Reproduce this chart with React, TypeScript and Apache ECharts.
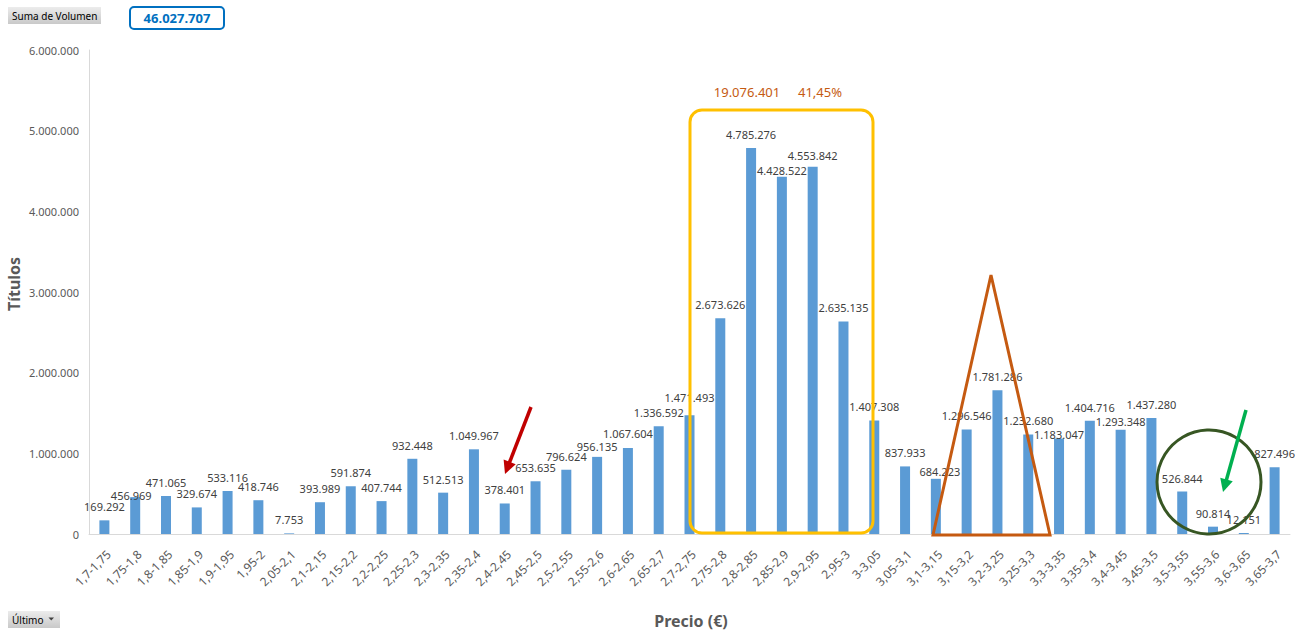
import React, { useEffect, useRef } from "react";
import * as echarts from "echarts";

// Price ranges (€) and traded volume per range
const categories = [
  "1,7-1,75", "1,75-1,8", "1,8-1,85", "1,85-1,9", "1,9-1,95", "1,95-2", "2,05-2,1",
  "2,1-2,15", "2,15-2,2", "2,2-2,25", "2,25-2,3", "2,3-2,35", "2,35-2,4", "2,4-2,45",
  "2,45-2,5", "2,5-2,55", "2,55-2,6", "2,6-2,65", "2,65-2,7", "2,7-2,75", "2,75-2,8",
  "2,8-2,85", "2,85-2,9", "2,9-2,95", "2,95-3", "3-3,05", "3,05-3,1", "3,1-3,15",
  "3,15-3,2", "3,2-3,25", "3,25-3,3", "3,3-3,35", "3,35-3,4", "3,4-3,45", "3,45-3,5",
  "3,5-3,55", "3,55-3,6", "3,6-3,65", "3,65-3,7",
];

const volumes = [
  169292, 456969, 471065, 329674, 533116, 418746, 7753,
  393989, 591874, 407744, 932448, 512513, 1049967, 378401,
  653635, 796624, 956135, 1067604, 1336592, 1471493, 2673626,
  4785276, 4428522, 4553842, 2635135, 1407308, 837933, 684223,
  1296546, 1781286, 1232680, 1183047, 1404716, 1293348, 1437280,
  526844, 90814, 12151, 827496,
];

// Indices of the highlighted price band (2,75 – 3 €)
const bandStart = 20;
const bandEnd = 24;

const yMax = 6000000;
const yStep = 1000000;

const fmt = (v: number) =>
  Math.round(v).toString().replace(/\B(?=(\d{3})+(?!\d))/g, ".");

// Small label shifts where labels would collide
const labelNudges: Record<number, [number, number]> = {
  1: [-4, 12],
  16: [0, 3],
  17: [0, -1],
  19: [0, -4],
  22: [0, 7],
  23: [0, 2],
  27: [4, 6],
  30: [0, -1],
  31: [0, 9],
  33: [0, 5],
};

const FONT = "'Noto Sans', 'Open Sans', sans-serif";

function arrow(x1: number, y1: number, x2: number, y2: number, color: string) {
  const dx = x2 - x1;
  const dy = y2 - y1;
  const len = Math.sqrt(dx * dx + dy * dy);
  const ux = dx / len;
  const uy = dy / len;
  const head = 13;
  const half = 6.5;
  const bx = x2 - ux * head;
  const by = y2 - uy * head;
  const nx = -uy;
  const ny = ux;
  return {
    type: "group",
    z: 100,
    children: [
      {
        type: "line",
        z: 100,
        shape: { x1, y1, x2: bx + ux * 2, y2: by + uy * 2 },
        style: { stroke: color, lineWidth: 3.5 },
      },
      {
        type: "polygon",
        z: 100,
        shape: {
          points: [
            [x2, y2],
            [bx + nx * half, by + ny * half],
            [bx - nx * half, by - ny * half],
          ],
        },
        style: { fill: color },
      },
    ],
  };
}

const buttonFill = {
  type: "linear", x: 0, y: 0, x2: 0, y2: 1,
  colorStops: [
    { offset: 0, color: "#ececec" },
    { offset: 1, color: "#c9c9c9" },
  ],
};

export default function App() {
  const ref = useRef<HTMLDivElement>(null);

  useEffect(() => {
    if (!ref.current) return;
    const chart = echarts.init(ref.current, undefined, { renderer: "svg" });

    const total = volumes.reduce((a, b) => a + b, 0);
    const bandTotal = volumes.slice(bandStart, bandEnd + 1).reduce((a, b) => a + b, 0);
    const bandShare = ((bandTotal / total) * 100).toFixed(2).replace(".", ",") + "%";

    const seriesData = volumes.map((v, i) =>
      labelNudges[i] ? { value: v, label: { offset: labelNudges[i] } } : { value: v }
    );

    const option: any = {
      animation: false,
      backgroundColor: "#ffffff",
      grid: { left: 89, right: 15, top: 50, bottom: 101, containLabel: false },
      xAxis: {
        type: "category",
        data: categories,
        axisLine: { show: true, lineStyle: { color: "#D9D9D9", width: 1 } },
        axisTick: { show: false },
        axisLabel: {
          interval: 0,
          rotate: 45,
          align: "right",
          verticalAlign: "top",
          margin: 14,
          fontSize: 12,
          fontFamily: FONT,
          color: "#595959",
        },
      },
      yAxis: {
        type: "value",
        min: 0,
        max: yMax,
        interval: yStep,
        axisLine: { show: true, lineStyle: { color: "#D9D9D9", width: 1 } },
        axisTick: { show: false },
        splitLine: { show: false },
        axisLabel: {
          margin: 10,
          fontSize: 11,
          fontFamily: FONT,
          color: "#595959",
          formatter: (v: number) => fmt(v),
        },
      },
      series: [
        {
          type: "bar",
          data: seriesData,
          barWidth: 10,
          itemStyle: { color: "#5B9BD5" },
          label: {
            show: true,
            position: "top",
            distance: 8,
            fontSize: 11,
            fontFamily: FONT,
            color: "#404040",
            formatter: (p: any) => fmt(p.value),
          },
        },
      ],
      graphic: [
        // "Suma de Volumen" field button
        {
          type: "rect",
          z: 100,
          shape: { x: 8, y: 7, width: 93, height: 17 },
          style: { fill: buttonFill },
        },
        {
          type: "text",
          z: 101,
          x: 12,
          y: 16,
          style: {
            text: "Suma de Volumen",
            fontSize: 10,
            fontFamily: FONT,
            fill: "#000000",
            verticalAlign: "middle",
          },
        },
        // Total volume box
        {
          type: "rect",
          z: 100,
          shape: { x: 130, y: 7, width: 94, height: 22, r: 4 },
          style: { fill: "#ffffff", stroke: "#0070C0", lineWidth: 2 },
        },
        {
          type: "text",
          z: 101,
          x: 177,
          y: 18,
          style: {
            text: fmt(total),
            fontSize: 13,
            fontWeight: "bold",
            fontFamily: FONT,
            fill: "#0070C0",
            align: "center",
            verticalAlign: "middle",
          },
        },
        // "Último" field button
        {
          type: "rect",
          z: 100,
          shape: { x: 8, y: 611, width: 52, height: 17 },
          style: { fill: buttonFill },
        },
        {
          type: "text",
          z: 101,
          x: 12,
          y: 620,
          style: {
            text: "Último",
            fontSize: 10,
            fontFamily: FONT,
            fill: "#000000",
            verticalAlign: "middle",
          },
        },
        {
          type: "polygon",
          z: 101,
          shape: { points: [[48.5, 617.5], [54, 617.5], [51.25, 620.5]] },
          style: { fill: "#404040" },
        },
        // Axis titles
        {
          type: "text",
          z: 100,
          x: 14,
          y: 284,
          rotation: Math.PI / 2,
          style: {
            text: "Títulos",
            fontSize: 16,
            fontWeight: "bold",
            fontFamily: FONT,
            fill: "#595959",
            align: "center",
            verticalAlign: "middle",
          },
        },
        {
          type: "text",
          z: 100,
          x: 691,
          y: 621,
          style: {
            text: "Precio (€)",
            fontSize: 16,
            fontWeight: "bold",
            fontFamily: FONT,
            fill: "#595959",
            align: "center",
            verticalAlign: "middle",
          },
        },
        // Highlighted band and its totals
        {
          type: "rect",
          z: 100,
          shape: { x: 690, y: 110, width: 183, height: 423, r: 12 },
          style: { fill: "none", stroke: "#FFC000", lineWidth: 3 },
        },
        {
          type: "text",
          z: 100,
          x: 747,
          y: 92,
          style: {
            text: fmt(bandTotal),
            fontSize: 13,
            fontFamily: FONT,
            fill: "#C55A11",
            align: "center",
            verticalAlign: "middle",
          },
        },
        {
          type: "text",
          z: 100,
          x: 820,
          y: 92,
          style: {
            text: bandShare,
            fontSize: 13,
            fontFamily: FONT,
            fill: "#C55A11",
            align: "center",
            verticalAlign: "middle",
          },
        },
        // Triangle around the secondary peak
        {
          type: "polygon",
          z: 100,
          shape: { points: [[933, 535], [991, 275], [1050, 535]] },
          style: { fill: "none", stroke: "#C55A11", lineWidth: 3 },
        },
        // Circle around the low-volume ranges
        {
          type: "circle",
          z: 100,
          shape: { cx: 1209, cy: 482, r: 52 },
          style: { fill: "none", stroke: "#375623", lineWidth: 3 },
        },
        arrow(1246, 410, 1223, 492, "#00B050"),
        arrow(531, 407, 505, 474, "#C00000"),
      ],
    };

    chart.setOption(option);
    return () => chart.dispose();
  }, []);

  return (
    <div
      ref={ref}
      style={{ position: "absolute", left: 0, top: 0, width: 1305, height: 635 }}
    />
  );
}
